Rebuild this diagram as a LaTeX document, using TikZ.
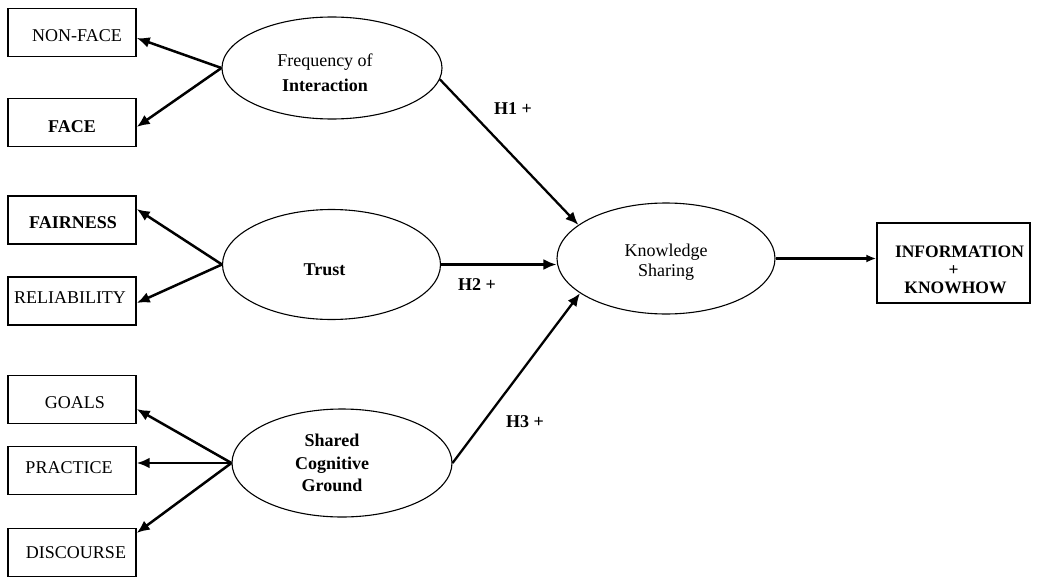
\documentclass[tikz,border=0pt]{standalone}
\usepackage{fontspec}
\setmainfont{Liberation Serif}
\usetikzlibrary{arrows.meta,shapes.geometric}
\begin{document}
\begin{tikzpicture}[x=1pt,y=-1pt,
  every node/.style={font=\fontsize{18}{22}\selectfont},
  every label/.style={inner sep=0pt,align=center},
  indicator/.style={draw,line width=1.4pt,rectangle,minimum width=128pt,minimum height=48pt,inner sep=0pt},
  construct/.style={draw,line width=1.1pt,ellipse,inner sep=0pt},
  loading/.style={line width=2.5pt,-{Latex[length=13pt,width=11pt]}},
  path/.style={line width=2.3pt,-{Latex[length=13pt,width=11pt]}},
  hyp/.style={font=\bfseries\fontsize{18}{22}\selectfont}]
\useasboundingbox (0,0) rectangle (1038,578);

% indicator boxes
\node[indicator,label={[xshift=5pt,yshift=-3.5pt]center:NON-FACE}] (nonface) at (72,32.5) {};
\node[indicator,label={[yshift=-4.5pt]center:\bfseries FACE}] (face) at (72,122.5) {};
\node[indicator,label={[xshift=1pt,yshift=-3pt]center:\bfseries FAIRNESS}] (fair) at (72,220) {};
\node[indicator,label={[xshift=-2pt,yshift=3pt]center:RELIABILITY}] (rel) at (72,301) {};
\node[indicator,label={[xshift=3pt,yshift=-3.5pt]center:GOALS}] (goals) at (72,399.5) {};
\node[indicator,label={[xshift=-3pt,yshift=2.5pt]center:PRACTICE}] (prac) at (72,470.5) {};
\node[indicator,label={[xshift=4pt]center:DISCOURSE}] (disc) at (72,552.5) {};

% latent constructs
\node[construct,minimum width=220pt,minimum height=102pt,
  label={[xshift=-7pt,yshift=-4.5pt,font=\fontsize{18}{25}\selectfont]center:Frequency of\\ \bfseries Interaction}]
  (freq) at (332,68) {};
\node[construct,minimum width=218pt,minimum height=110pt,
  label={[xshift=-7pt,yshift=-5pt]center:\bfseries Trust}] (trust) at (331.5,264.5) {};
\node[construct,minimum width=220pt,minimum height=108pt,
  label={[xshift=-10pt,font=\bfseries\fontsize{18}{22.5}\selectfont]center:Shared\\ Cognitive\\ Ground}]
  (shared) at (342,463) {};
\node[construct,minimum width=218pt,minimum height=111pt,
  label={[yshift=-3.5pt,font=\fontsize{18}{20}\selectfont]center:Knowledge\\ Sharing}]
  (know) at (666,258.5) {};

% outcome box
\node[draw,line width=1.4pt,rectangle,minimum width=153pt,minimum height=80pt,inner sep=0pt,
  label={[xshift=6pt,yshift=-7pt,font=\bfseries\fontsize{17.5}{18}\selectfont]center:INFORMATION\\ \hspace*{-12pt}+\\ \hspace*{-8pt}KNOWHOW}]
  (info) at (953.5,263) {};

% measurement arrows
\draw[loading] (freq.west) -- ([yshift=-5.5pt]nonface.east);
\draw[loading] (freq.west) -- ([yshift=-4.5pt]face.east);
\draw[loading] (trust.west) -- ([yshift=11pt]fair.east);
\draw[loading] (trust.west) -- ([yshift=-2pt]rel.east);
\draw[loading] (shared.west) -- ([yshift=-9.5pt]goals.east);
\draw[loading] (shared.west) -- (shared.west -| prac.east);
\draw[loading] (shared.west) -- ([yshift=19.5pt]disc.east);

% structural paths
\draw[path] (freq.-6) -- (know.159);
\draw[path] (trust.east) -- (trust.east -| know.west);
\draw[path] (shared.east) -- (know.202);
\draw[line width=2.5pt,-{Latex[length=10pt,width=8pt]}] (know.east) -- (know.east -| info.west);

% hypothesis labels
\node[hyp] (h1) at (513,109) {H1 +};
\node[hyp] (h2) at (477,285) {H2 +};
\node[hyp] (h3) at (525,422) {H3 +};
\end{tikzpicture}
\end{document}
